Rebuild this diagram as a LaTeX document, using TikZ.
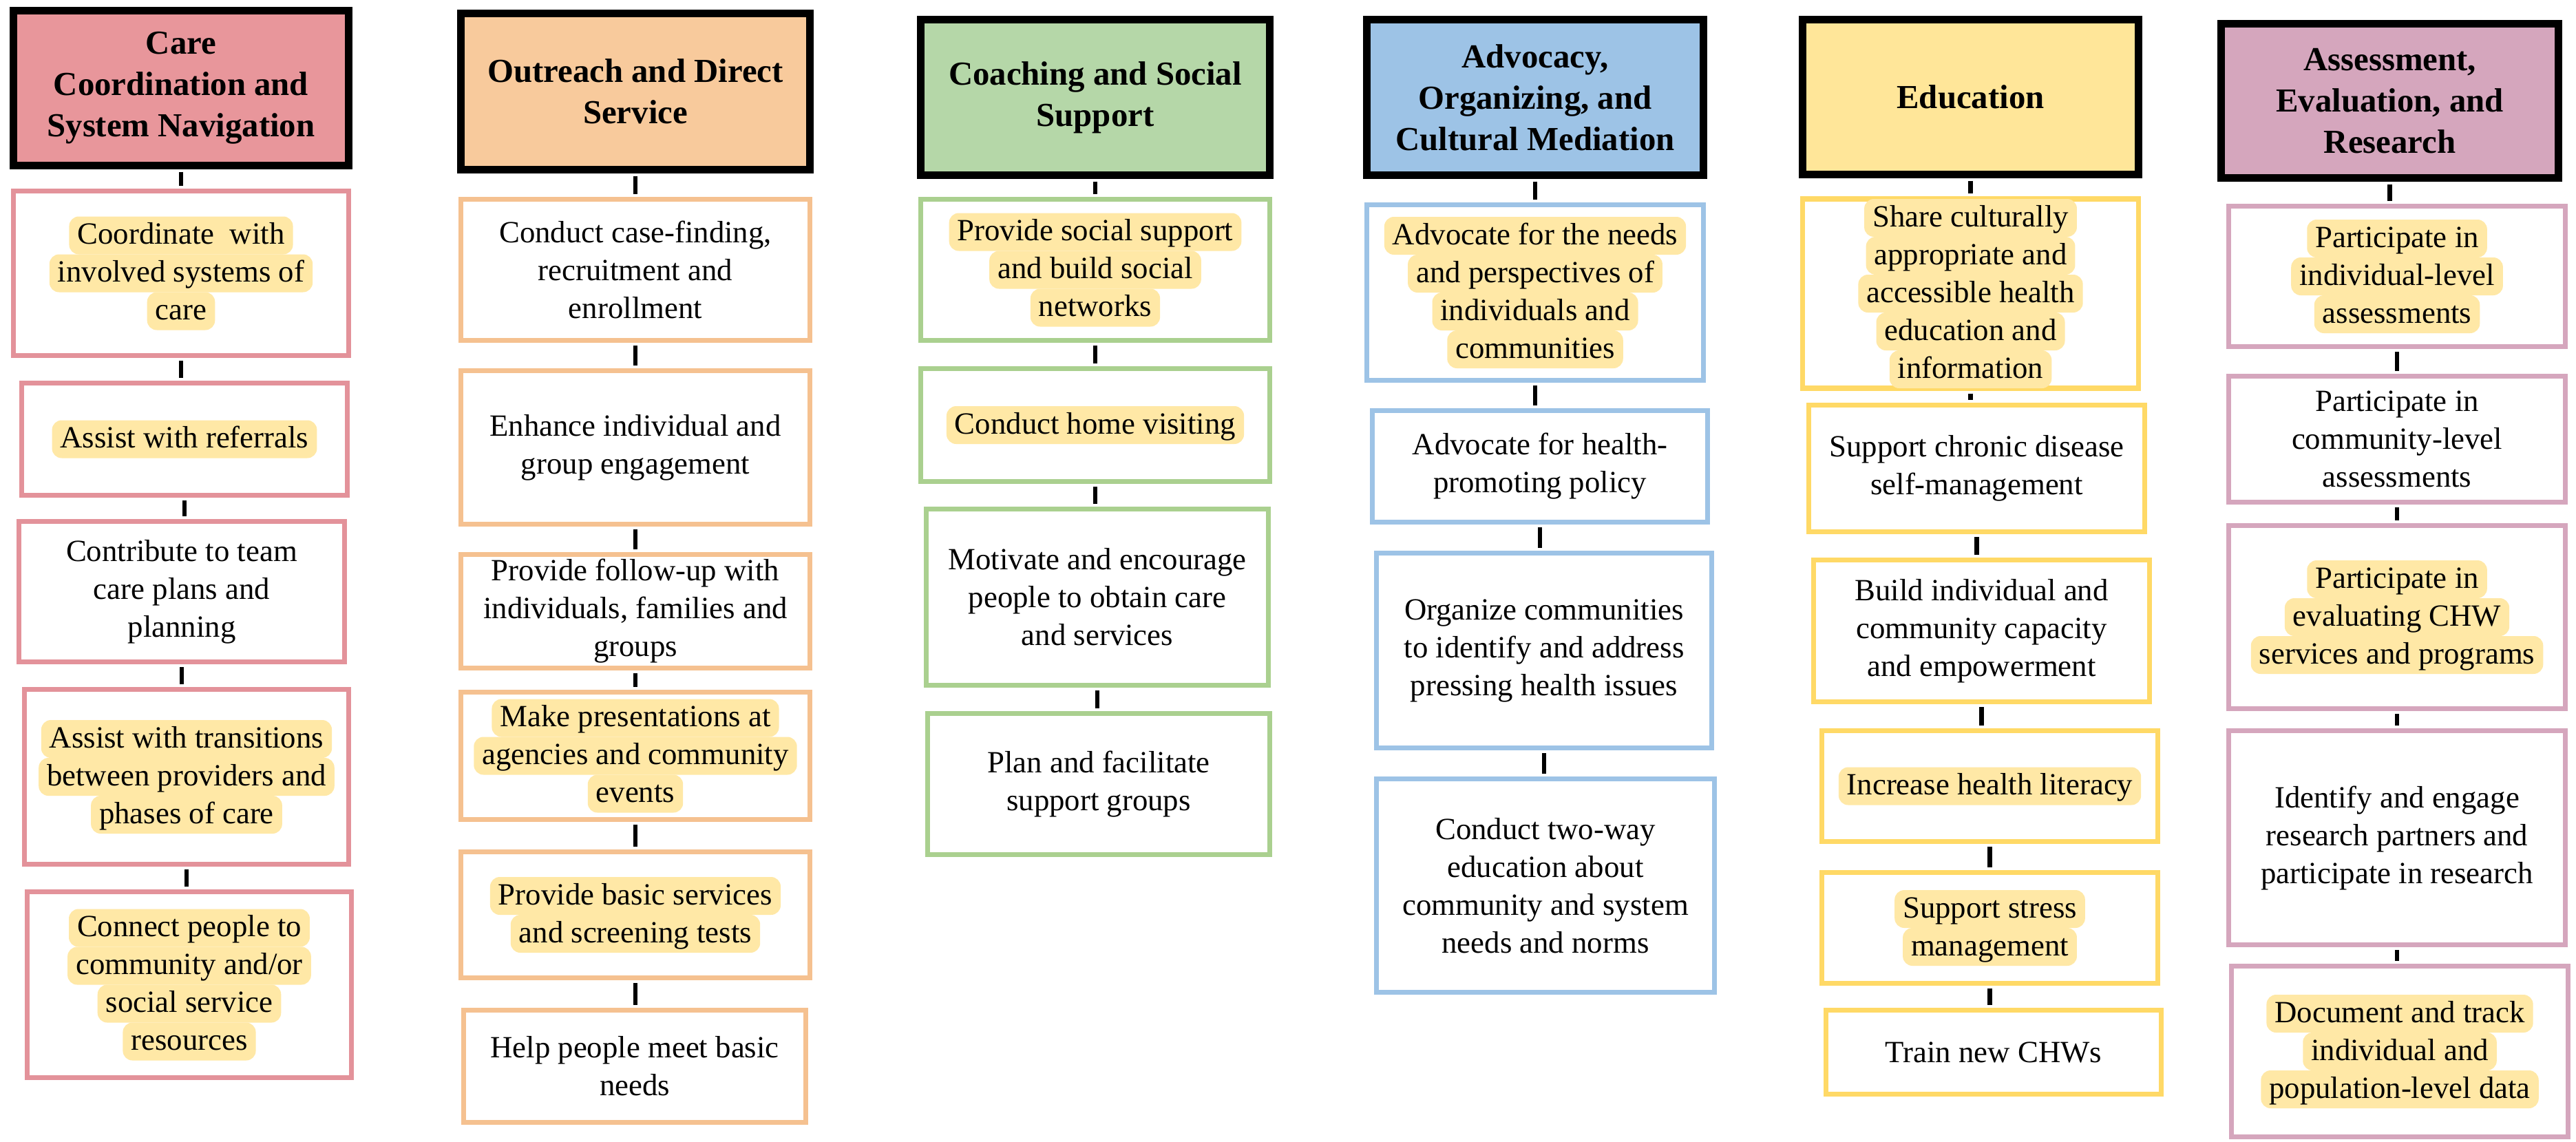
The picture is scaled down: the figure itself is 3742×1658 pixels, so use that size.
\documentclass[tikz,border=0pt]{standalone}
\usepackage{fontspec}
\setmainfont{Liberation Serif}
\definecolor{hA}{HTML}{E8969B}
\definecolor{bA}{HTML}{E3929A}
\definecolor{hB}{HTML}{F8CA9C}
\definecolor{bB}{HTML}{F5C190}
\definecolor{hC}{HTML}{B5D7A8}
\definecolor{bC}{HTML}{AAD08F}
\definecolor{hD}{HTML}{9DC3E6}
\definecolor{bD}{HTML}{9DC3E6}
\definecolor{hE}{HTML}{FFE699}
\definecolor{bE}{HTML}{FFD966}
\definecolor{hF}{HTML}{D5A6BD}
\definecolor{bF}{HTML}{D5A6BD}
\definecolor{hl}{HTML}{FFE8A6}
\newcommand\hlt[1]{\tikz[baseline=(hlnode.base)]\node[fill=hl, draw=none, rounded corners=3.5pt, minimum width=0pt, minimum height=0pt, inner xsep=3pt, inner ysep=0pt, text height=10.05pt, text depth=3.7pt, outer sep=0pt, align=center] (hlnode) {#1};}
\newcommand\bx[7]{\node[#2, minimum width={(#5-#3)*0.25pt-1.8pt}, minimum height={(#6-#4)*0.25pt-1.8pt}] (#1) at ({(#3+#5)/2},{(#4+#6)/2}) {#7};}
\tikzset{
  hd/.style={draw=black, line width=2.6pt, fill=#1, inner sep=0pt, align=center,
    font=\bfseries\fontsize{12.2pt}{15pt}\selectfont},
  bxs/.style={draw=#1, line width=1.8pt, fill=white, inner sep=0pt, align=center,
    font=\fontsize{11.2pt}{13.75pt}\selectfont},
  conn/.style={draw=black, line width=1.7pt, shorten <=1pt, shorten >=1pt}
}
\begin{document}
\begin{tikzpicture}[x=0.25pt,y=-0.25pt]
\useasboundingbox[fill=white] (0,0) rectangle (3742,1658);
% Column 1
\bx{a0}{hd=hA}{16}{12}{510}{244}{Care\\Coordination and\\System Navigation}
\bx{a1}{bxs=bA}{16}{274}{510}{520}{\hlt{Coordinate\ \ with}\\\hlt{involved systems of}\\\hlt{care}}
\bx{a2}{bxs=bA}{28}{553}{508}{723}{\hlt{Assist with referrals}}
\bx{a3}{bxs=bA}{24}{754}{504}{965}{Contribute to team\\care plans and\\planning}
\bx{a4}{bxs=bA}{32}{998}{510}{1259}{\hlt{Assist with transitions}\\\hlt{between providers and}\\\hlt{phases of care}}
\bx{a5}{bxs=bA}{36}{1292}{514}{1569}{\hlt{Connect people to}\\\hlt{community and/or}\\\hlt{social service}\\\hlt{resources}}
% Column 2
\bx{b0}{hd=hB}{666}{16}{1180}{250}{Outreach and Direct\\Service}
\bx{b1}{bxs=bB}{666}{286}{1180}{498}{Conduct case-finding,\\recruitment and\\enrollment}
\bx{b2}{bxs=bB}{666}{535}{1180}{765}{Enhance individual and\\group engagement}
\bx{b3}{bxs=bB}{666}{802}{1180}{974}{Provide follow-up with\\individuals, families and\\groups}
\bx{b4}{bxs=bB}{666}{1002}{1180}{1194}{\hlt{Make presentations at}\\\hlt{agencies and community}\\\hlt{events}}
\bx{b5}{bxs=bB}{666}{1234}{1180}{1424}{\hlt{Provide basic services}\\\hlt{and screening tests}}
\bx{b6}{bxs=bB}{670}{1464}{1174}{1634}{Help people meet basic\\needs}
% Column 3
\bx{c0}{hd=hC}{1334}{25}{1848}{258}{Coaching and Social\\Support}
\bx{c1}{bxs=bC}{1334}{286}{1848}{498}{\hlt{Provide social support}\\\hlt{and build social}\\\hlt{networks}}
\bx{c2}{bxs=bC}{1334}{532}{1848}{703}{\hlt{Conduct home visiting}}
\bx{c3}{bxs=bC}{1342}{736}{1846}{999}{Motivate and encourage\\people to obtain care\\and services}
\bx{c4}{bxs=bC}{1344}{1033}{1848}{1245}{Plan and facilitate\\support groups}
% Column 4
\bx{d0}{hd=hD}{1982}{25}{2478}{258}{Advocacy,\\Organizing, and\\Cultural Mediation}
\bx{d1}{bxs=bD}{1982}{294}{2478}{556}{\hlt{Advocate for the needs}\\\hlt{and perspectives of}\\\hlt{individuals and}\\\hlt{communities}}
\bx{d2}{bxs=bD}{1990}{593}{2484}{762}{Advocate for health-\\promoting policy}
\bx{d3}{bxs=bD}{1996}{800}{2490}{1090}{Organize communities\\to identify and address\\pressing health issues}
\bx{d4}{bxs=bD}{1996}{1128}{2494}{1445}{Conduct two-way\\education about\\community and system\\needs and norms}
% Column 5
\bx{e0}{hd=hE}{2615}{25}{3110}{257}{Education}
\bx{e1}{bxs=bE}{2615}{295}{3110}{558}{\hlt{Share culturally}\\\hlt{appropriate and}\\\hlt{accessible health}\\\hlt{education and}\\\hlt{information}}
\bx{e2}{bxs=bE}{2624}{585}{3119}{776}{Support chronic disease\\self-management}
\bx{e3}{bxs=bE}{2631}{810}{3126}{1023}{Build individual and\\community capacity\\and empowerment}
\bx{e4}{bxs=bE}{2643}{1058}{3138}{1226}{\hlt{Increase health literacy}}
\bx{e5}{bxs=bE}{2643}{1264}{3138}{1432}{\hlt{Support stress}\\\hlt{management}}
\bx{e6}{bxs=bE}{2649}{1464}{3143}{1593}{Train new CHWs}
% Column 6
\bx{f0}{hd=hF}{3223}{31}{3720}{262}{Assessment,\\Evaluation, and\\Research}
\bx{f1}{bxs=bF}{3234}{296}{3730}{507}{\hlt{Participate in}\\\hlt{individual-level}\\\hlt{assessments}}
\bx{f2}{bxs=bF}{3234}{543}{3730}{733}{Participate in\\community-level\\assessments}
\bx{f3}{bxs=bF}{3234}{760}{3730}{1033}{\hlt{Participate in}\\\hlt{evaluating CHW}\\\hlt{services and programs}}
\bx{f4}{bxs=bF}{3234}{1058}{3730}{1376}{Identify and engage\\research partners and\\participate in research}
\bx{f5}{bxs=bF}{3238}{1400}{3734}{1655}{\hlt{Document and track}\\\hlt{individual and}\\\hlt{population-level data}}
% Connectors
\foreach \p/\q in {a0/a1,a1/a2,a2/a3,a3/a4,a4/a5,
                   b0/b1,b1/b2,b2/b3,b3/b4,b4/b5,b5/b6,
                   c0/c1,c1/c2,c2/c3,c3/c4,
                   d0/d1,d1/d2,d2/d3,d3/d4,
                   e0/e1,e1/e2,e2/e3,e3/e4,e4/e5,e5/e6,
                   f0/f1,f1/f2,f2/f3,f3/f4,f4/f5}
  \draw[conn] (\p.south) -- (\p.south |- \q.north);
\end{tikzpicture}
\end{document}
